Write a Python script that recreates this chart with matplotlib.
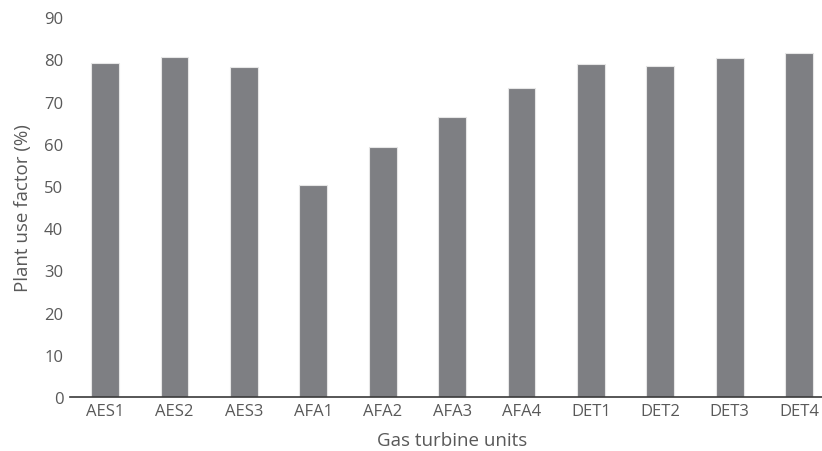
import matplotlib
matplotlib.use("Agg")
import matplotlib.pyplot as plt

units = ["AES1", "AES2", "AES3", "AFA1", "AFA2", "AFA3", "AFA4",
         "DET1", "DET2", "DET3", "DET4"]
plant_use_factor = [79.1, 80.6, 78.1, 50.3, 59.2, 66.4, 73.3,
                    78.9, 78.5, 80.2, 81.6]
y_ticks = [0, 10, 20, 30, 40, 50, 60, 70, 80, 90]

plt.rcParams["font.family"] = ["Open Sans", "DejaVu Sans"]
text_color = "#595959"

fig = plt.figure(figsize=(8.22, 4.52), dpi=100)
ax = fig.add_axes([0.0855, 0.1195, 0.929, 0.8405])

x = range(len(units))
ax.bar(x, plant_use_factor, width=0.4, color="#7e7f83",
       edgecolor="#e6e6e6", linewidth=0.8, zorder=2)

ax.set_xlim(-0.5, len(units) - 0.5)
ax.set_ylim(0, 90)
ax.set_yticks(y_ticks)
ax.set_xticks(list(x))
ax.set_xticklabels(units)

for side in ("top", "right", "left"):
    ax.spines[side].set_visible(False)
ax.spines["bottom"].set_color("#3a3a3a")
ax.spines["bottom"].set_linewidth(1.2)

ax.tick_params(axis="both", length=0, labelsize=12, colors=text_color)
ax.tick_params(axis="y", pad=5)
ax.tick_params(axis="x", pad=4)

ax.set_xlabel("Gas turbine units", fontsize=13.5, color=text_color, labelpad=9)
ax.set_ylabel("Plant use factor (%)", fontsize=13.5, color=text_color, labelpad=9)

fig.savefig("out.png", dpi=100)
